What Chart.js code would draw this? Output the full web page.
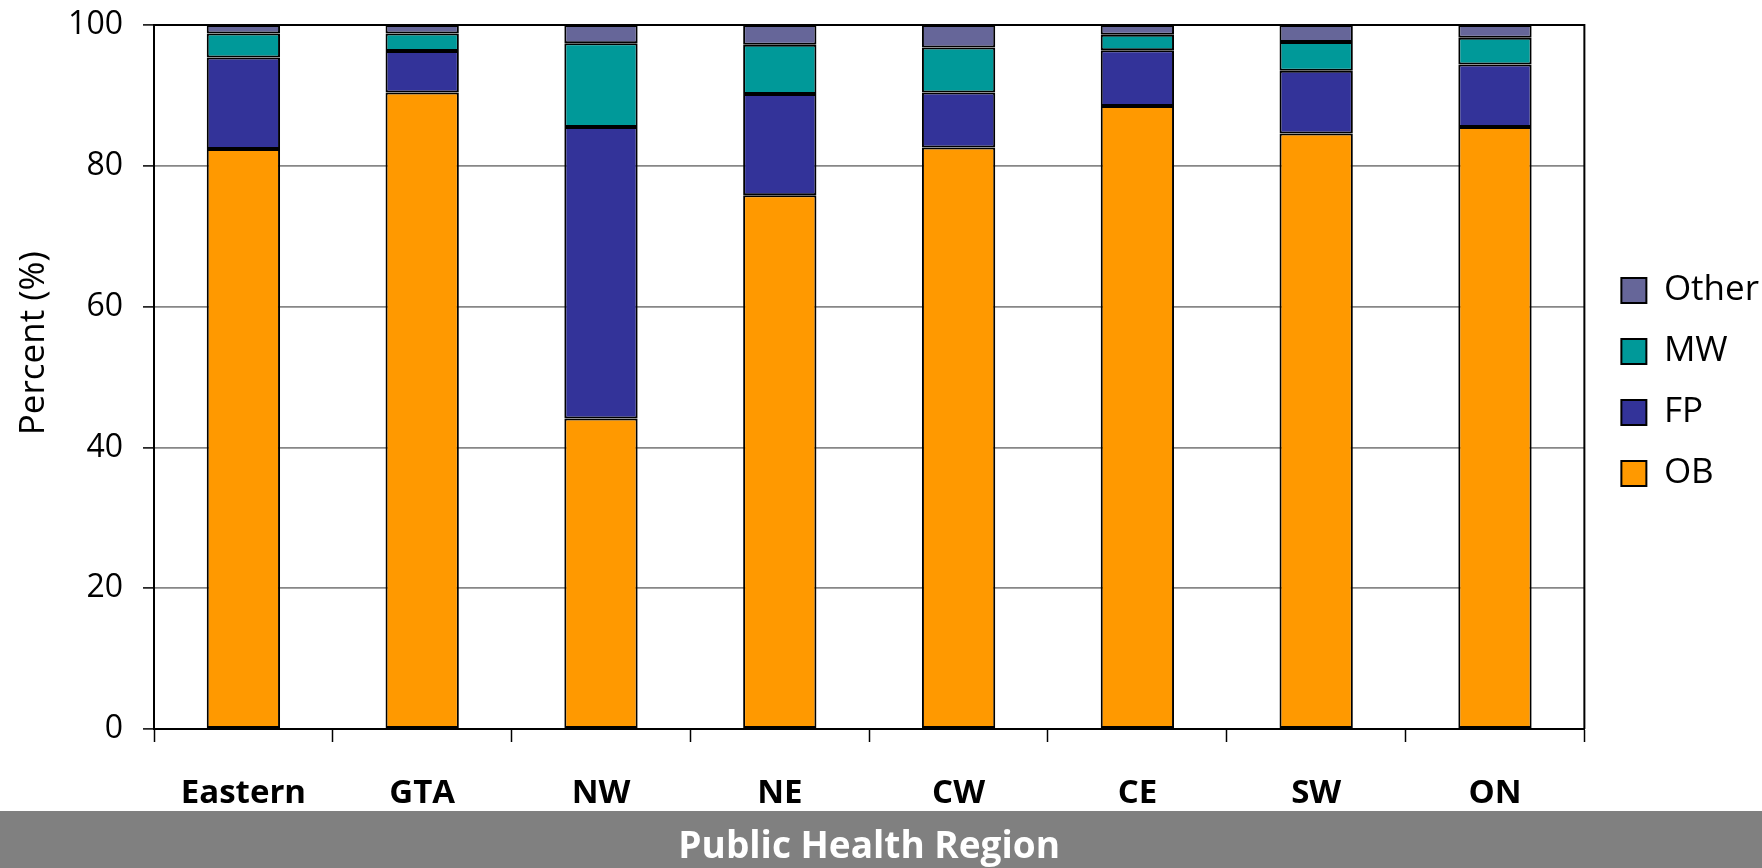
<!DOCTYPE html>
<html>
<head>
<meta charset="utf-8">
<script src="https://cdn.jsdelivr.net/npm/chart.js@4/dist/chart.umd.min.js"></script>
<style>
  html, body { margin: 0; padding: 0; background: #ffffff; }
  #wrap { width: 1762px; height: 868px; position: relative; }
</style>
</head>
<body>
<div id="wrap"><canvas id="c" width="1762" height="868"></canvas></div>
<script>
const categories = ['Eastern', 'GTA', 'NW', 'NE', 'CW', 'CE', 'SW', 'ON'];
const obValues    = [82.4, 90.4, 44.1, 75.8, 82.6, 88.5, 84.6, 85.5];
const fpValues    = [13.0,  5.9, 41.4, 14.4,  7.8,  7.9,  8.9,  8.9];
const mwValues    = [ 3.4,  2.5, 11.9,  7.0,  6.4,  2.2,  4.1,  3.8];
const otherValues = [ 1.2,  1.2,  2.6,  2.8,  3.2,  1.4,  2.4,  1.8];
const yTicks = [0, 20, 40, 60, 80, 100];
const xTitle = 'Public Health Region';
const yTitle = 'Percent (%)';

const FONT = "'Open Sans', 'DejaVu Sans', sans-serif";

// grey band behind the bottom title
const bandPlugin = {
  id: 'band',
  beforeDraw(chart) {
    const tb = chart.titleBlock;
    if (!tb) return;
    const ctx = chart.ctx;
    ctx.save();
    ctx.fillStyle = '#808080';
    ctx.fillRect(0, tb.top, chart.width, chart.height - tb.top);
    ctx.restore();
  }
};

// top and right edges of the plot-area frame
const framePlugin = {
  id: 'frame',
  beforeDatasetsDraw(chart) {
    const a = chart.chartArea;
    const ctx = chart.ctx;
    ctx.save();
    ctx.strokeStyle = '#000000';
    ctx.lineWidth = 2;
    ctx.beginPath();
    ctx.moveTo(a.left, a.top);
    ctx.lineTo(a.right, a.top);
    ctx.lineTo(a.right, a.bottom);
    ctx.stroke();
    ctx.restore();
  }
};

// nudge legend so its boxes sit a fixed gap right of the plot area
const legendShift = {
  id: 'legendShift',
  afterLayout(chart) {
    const lg = chart.legend;
    if (!lg) return;
    const pad = lg.options.labels.padding;
    const dx = (chart.chartArea.right + 37) - (lg.left + pad);
    lg.left += dx;
    lg.right += dx;
    lg.top += 5;
    lg.bottom += 5;
  }
};

// rotated y-axis title
const yTitlePlugin = {
  id: 'yTitle',
  afterDraw(chart) {
    const ctx = chart.ctx;
    const a = chart.chartArea;
    ctx.save();
    ctx.translate(34, a.top + (a.bottom - a.top) * 0.452);
    ctx.rotate(-Math.PI / 2);
    ctx.fillStyle = '#000000';
    ctx.font = '35px ' + FONT;
    ctx.textAlign = 'center';
    ctx.textBaseline = 'middle';
    ctx.fillText(yTitle, 0, 0);
    ctx.restore();
  }
};

function ds(label, data, color) {
  return {
    label, data,
    backgroundColor: color,
    borderColor: '#000000',
    borderWidth: 2,
    borderSkipped: false,
    barPercentage: 0.41,
    categoryPercentage: 1.0
  };
}

new Chart(document.getElementById('c'), {
  type: 'bar',
  data: {
    labels: categories,
    datasets: [
      ds('OB', obValues, '#FF9900'),
      ds('FP', fpValues, '#333399'),
      ds('MW', mwValues, '#009999'),
      ds('Other', otherValues, '#666699')
    ]
  },
  options: {
    responsive: false,
    animation: false,
    devicePixelRatio: 1,
    layout: { padding: { left: 14, right: 4, top: 25, bottom: 0 } },
    plugins: {
      tooltip: { enabled: false },
      title: {
        display: true,
        position: 'bottom',
        fullSize: false,
        text: xTitle,
        color: '#ffffff',
        font: { family: FONT, size: 37, weight: 'bold', lineHeight: 1.0 },
        padding: { top: 18, bottom: 2 }
      },
      legend: {
        position: 'right',
        fullSize: false,
        reverse: true,
        labels: {
          color: '#000000',
          font: { family: FONT, size: 35 },
          boxWidth: 25,
          boxHeight: 25,
          padding: 26
        }
      }
    },
    scales: {
      x: {
        stacked: true,
        afterFit(scale) { scale.height = 82; },
        border: { display: true, color: '#000000', width: 2 },
        grid: {
          offset: true,
          drawOnChartArea: false,
          drawTicks: true,
          tickLength: 13,
          tickColor: '#000000',
          tickWidth: 1.5
        },
        ticks: {
          color: '#000000',
          font: { family: FONT, size: 33, weight: 'bold' },
          padding: 32,
          maxRotation: 0
        }
      },
      y: {
        stacked: true,
        min: 0,
        max: 100,
        afterFit(scale) {
          scale.width = 140;
          scale.paddingTop = 0;
          scale.paddingBottom = 0;
        },
        afterBuildTicks(scale) { scale.ticks = yTicks.map(v => ({ value: v })); },
        border: { display: true, color: '#000000', width: 2 },
        grid: {
          color: '#878787',
          lineWidth: 1.8,
          drawTicks: true,
          tickLength: 11,
          tickColor: '#000000',
          tickWidth: 1.5
        },
        ticks: {
          color: '#000000',
          font: { family: FONT, size: 32 },
          padding: 20
        }
      }
    }
  },
  plugins: [bandPlugin, framePlugin, legendShift, yTitlePlugin]
});
</script>
</body>
</html>
